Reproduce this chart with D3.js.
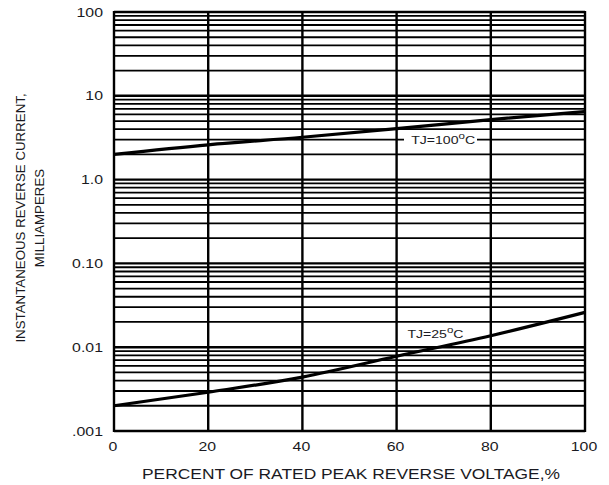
<!DOCTYPE html>
<html>
<head>
<meta charset="utf-8">
<script src="https://cdn.jsdelivr.net/npm/d3@7"></script>
<style>
  html, body { margin: 0; padding: 0; background: #fff; }
  svg { display: block; }
  text { font-family: "Liberation Sans", Arial, sans-serif; fill: #1a1a22; }
</style>
</head>
<body>
<script>
// ---- data ----
const percentVoltage = [0, 20, 40, 60, 80, 100];
const current100C = [2.0, 2.6, 3.2, 4.05, 5.2, 6.5];
const current25C = [0.0020, 0.0029, 0.0044, 0.0078, 0.0137, 0.026];
const xTicks = [0, 20, 40, 60, 80, 100];
const yTicks = [0.001, 0.01, 0.1, 1, 10, 100];
const yTickLabels = [".001", "0.01", "0.10", "1.0", "10", "100"];
const curveLabels = ["TJ=100", "TJ=25"];

const W = 609, H = 485;
const SX = 1.22; // horizontal stretch of lettering
const svg = d3.select("body").append("svg").attr("width", W).attr("height", H);

const x = d3.scaleLinear().domain([0, 100]).range([114, 585]);
const y = d3.scaleLog().domain([0.001, 100]).range([431, 12]);

// grid
const minor = [];
for (let k = -3; k <= 1; k++) for (let m = 2; m <= 9; m++) minor.push(m * Math.pow(10, k));
const g = svg.append("g");
g.selectAll("line.minor").data(minor).join("line")
  .attr("x1", x(0)).attr("x2", x(100))
  .attr("y1", d => y(d)).attr("y2", d => y(d))
  .attr("stroke", "#000").attr("stroke-width", 1.8);
g.selectAll("line.major").data(yTicks).join("line")
  .attr("x1", x(0)).attr("x2", x(100))
  .attr("y1", d => y(d)).attr("y2", d => y(d))
  .attr("stroke", "#000").attr("stroke-width", 2.4);
g.selectAll("line.vert").data(xTicks).join("line")
  .attr("x1", d => x(d)).attr("x2", d => x(d))
  .attr("y1", y(100) - 1).attr("y2", y(0.001) + 1)
  .attr("stroke", "#000").attr("stroke-width", 2.4);

// curves
const line = d3.line().x((d, i) => x(percentVoltage[i])).y(d => y(d)).curve(d3.curveMonotoneX);
[current100C, current25C].forEach(s => {
  svg.append("path").attr("d", line(s)).attr("fill", "none")
    .attr("stroke", "#000").attr("stroke-width", 3.2);
});

// axes
const yAxis = d3.axisLeft(y).tickValues(yTicks)
  .tickFormat((d, i) => yTickLabels[i]).tickSize(0).tickPadding(11);
const ya = svg.append("g").attr("transform", `translate(${x(0)},0)`).call(yAxis);
ya.select(".domain").remove();
ya.selectAll("text").style("font-size", "13px").attr("fill", "#1a1a22")
  .attr("font-family", "Liberation Sans, Arial, sans-serif")
  .attr("transform", `translate(-11,0) scale(${SX},1) translate(11,0)`);

const xAxis = d3.axisBottom(x).tickValues(xTicks).tickSize(0).tickPadding(11);
const xa = svg.append("g").attr("transform", `translate(0,${y(0.001)})`).call(xAxis);
xa.select(".domain").remove();
xa.selectAll("text").style("font-size", "13px").attr("fill", "#1a1a22")
  .attr("font-family", "Liberation Sans, Arial, sans-serif")
  .attr("transform", `translate(-1.5,0) scale(${SX},1)`);

// axis titles
svg.append("text").attr("x", 142).attr("y", 479)
  .attr("text-anchor", "start").style("font-size", "15px")
  .attr("textLength", 418).attr("lengthAdjust", "spacingAndGlyphs")
  .text("PERCENT OF RATED PEAK REVERSE VOLTAGE,%");

const yt = svg.append("g").attr("transform", "translate(0,218) rotate(-90)");
yt.append("text").attr("x", 0).attr("y", 25).attr("text-anchor", "middle")
  .style("font-size", "13.3px").text("INSTANTANEOUS REVERSE CURRENT,");
yt.append("text").attr("x", 0).attr("y", 43.5).attr("text-anchor", "middle")
  .style("font-size", "13.3px").text("MILLIAMPERES");

// curve labels
function degLabel(parent, tx, ty, base) {
  const t = parent.append("text").attr("x", 0).attr("y", 0)
    .attr("transform", `translate(${tx},${ty}) scale(1.28,1)`)
    .style("font-size", "11px");
  t.append("tspan").text(base);
  t.append("tspan").attr("dy", -5.5).style("font-size", "9px").text("o");
  t.append("tspan").attr("dy", 5.5).text("C");
  return t;
}
svg.append("rect").attr("x", 404).attr("y", 134).attr("width", 73).attr("height", 13).attr("fill", "#fff");
degLabel(svg, x(63.1), y(3) + 4.5, curveLabels[0]);
degLabel(svg, x(62.3), 338, curveLabels[1]);
</script>
</body>
</html>
